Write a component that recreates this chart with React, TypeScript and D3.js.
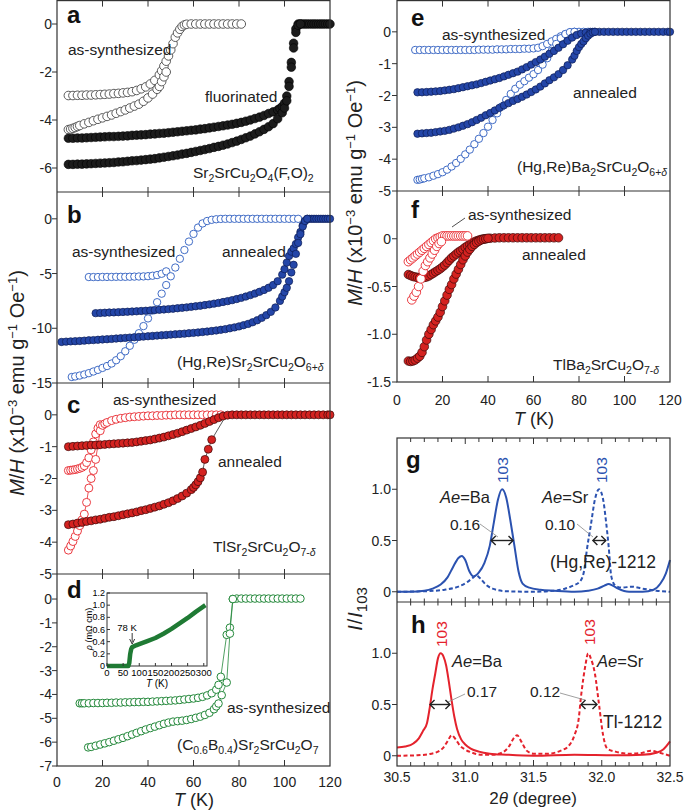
import React from 'react';
import * as d3 from 'd3';

type Pt = [number, number];

// ---------- tick labels ----------
const tempTicks = [0, 20, 40, 60, 80, 100, 120];
const thetaTicks = [30.5, 31.0, 31.5, 32.0, 32.5];
const thetaMinor = [30.6, 30.7, 30.8, 30.9, 31.1, 31.2, 31.3, 31.4, 31.6, 31.7, 31.8, 31.9, 32.1, 32.2, 32.3, 32.4];
const yTicksA = [0, -2, -4, -6];
const yTicksB = [0, -5, -10, -15];
const yTicksC = [0, -1, -2, -3, -4, -5];
const yTicksD = [0, -1, -2, -3, -4, -5, -6, -7];
const yTicksE = [0, -1, -2, -3, -4, -5];
const yTicksF = [0, -0.5, -1.0, -1.5];
const yTicksXrd = [0, 0.5, 1.0];
const rhoTicks = [0, 0.2, 0.4, 0.6, 0.8, 1.0, 1.2];
const rhoTempTicks = [0, 50, 100, 150, 200, 250, 300];

// ---------- panel a: Sr2SrCu2O4(F,O)2 ----------
const aAsUpper: Pt[] = [[5,-2.98],[7,-2.98],[9,-2.97],[11,-2.97],[13,-2.96],[15,-2.96],[17,-2.95],[19,-2.94],[21,-2.93],[23,-2.92],[25,-2.9],[27,-2.89],[29,-2.87],[31,-2.85],[33,-2.82],[35,-2.77],[37,-2.7],[39,-2.62],[41,-2.5],[43,-2.35],[45,-2.12],[46,-1.95],[47,-1.75],[48,-1.55],[49,-1.33],[50,-1.08],[51,-0.82],[52,-0.55],[53,-0.37],[54,-0.22],[55,-0.1],[56,-0.04],[57,-0.01],[59,0],[61,0],[63,0],[65,0],[67,0],[69,0],[71,0],[73,0],[75,0],[77,0],[79,0],[81,0]];
const aAsLower: Pt[] = [[5,-4.4],[6,-4.38],[7,-4.35],[8,-4.31],[9,-4.27],[10,-4.23],[12,-4.16],[14,-4.1],[16,-4.03],[18,-3.97],[20,-3.91],[22,-3.85],[24,-3.79],[26,-3.72],[28,-3.65],[30,-3.58],[32,-3.5],[34,-3.42],[36,-3.34],[38,-3.22],[40,-3.08],[42,-2.92],[44,-2.72],[45,-2.6],[46,-2.4],[47,-2.2],[48,-2.0]];
const aFlUpper: Pt[] = [[5,-4.76],[7,-4.76],[9,-4.75],[11,-4.75],[13,-4.74],[15,-4.73],[17,-4.72],[19,-4.71],[21,-4.7],[23,-4.69],[25,-4.69],[27,-4.68],[29,-4.67],[31,-4.66],[33,-4.64],[35,-4.63],[37,-4.62],[39,-4.61],[41,-4.59],[43,-4.58],[45,-4.56],[47,-4.55],[49,-4.53],[51,-4.51],[53,-4.49],[55,-4.47],[57,-4.45],[59,-4.43],[61,-4.41],[63,-4.38],[65,-4.36],[67,-4.33],[69,-4.3],[71,-4.27],[73,-4.24],[75,-4.21],[77,-4.18],[79,-4.14],[81,-4.1],[83,-4.05],[85,-4.0],[87,-3.94],[89,-3.88],[91,-3.81],[93,-3.73],[95,-3.66],[97,-3.58],[98,-3.52],[99,-3.44],[100,-3.3],[101,-3.0],[102,-2.4],[103,-1.6],[104,-0.8],[105,-0.2],[106,0],[107,0],[108,0],[109,0],[110,0],[111,0],[112,0],[113,0],[114,0],[115,0],[116,0],[117,0],[118,0],[119,0],[120,0]];
const aFlLower: Pt[] = [[5,-5.85],[7,-5.85],[9,-5.84],[11,-5.84],[13,-5.83],[15,-5.82],[17,-5.81],[19,-5.8],[21,-5.79],[23,-5.78],[25,-5.77],[27,-5.75],[29,-5.74],[31,-5.72],[33,-5.7],[35,-5.69],[37,-5.67],[39,-5.65],[41,-5.63],[43,-5.61],[45,-5.58],[47,-5.55],[49,-5.52],[51,-5.49],[53,-5.46],[55,-5.42],[57,-5.39],[59,-5.35],[61,-5.31],[63,-5.27],[65,-5.23],[67,-5.19],[69,-5.14],[71,-5.1],[73,-5.05],[75,-5.0],[77,-4.94],[79,-4.88],[81,-4.81],[83,-4.74],[85,-4.67],[87,-4.58],[89,-4.49],[91,-4.39],[93,-4.28],[95,-4.15],[97,-3.95],[99,-3.7],[100,-3.5],[101,-3.2],[102,-2.6],[103,-1.8],[104,-1.0],[105,-0.35],[106,-0.05],[107,0]];

// ---------- panel b: (Hg,Re)Sr2SrCu2O6+d ----------
const bAsUpper: Pt[] = [[14,-5.32],[16,-5.32],[18,-5.32],[20,-5.31],[22,-5.31],[24,-5.31],[26,-5.3],[28,-5.3],[30,-5.3],[32,-5.29],[34,-5.28],[36,-5.27],[38,-5.26],[40,-5.24],[42,-5.2],[44,-5.14],[46,-5.02],[48,-4.8]];
const bAsLower: Pt[] = [[6.5,-14.45],[8,-14.4],[10,-14.32],[12,-14.22],[14,-14.1],[16,-13.95],[18,-13.8],[20,-13.62],[22,-13.45],[24,-13.22],[26,-12.92],[28,-12.55],[30,-12.1],[32,-11.6],[34,-11.05],[36,-10.45],[38,-9.8],[40,-9.1],[42,-8.38],[44,-7.62],[46,-6.84],[48,-6.05],[50,-5.25],[52,-4.45],[54,-3.65],[56,-2.85],[58,-2.08],[60,-1.38],[62,-0.8],[64,-0.42],[66,-0.2],[68,-0.09],[70,-0.04],[72,-0.01],[74,0],[76,0],[78,0],[80,0],[82,0],[84,0],[86,0],[88,0],[90,0],[92,0],[94,0],[96,0],[98,0],[100,0],[102,0],[104,0],[106,0]];
const bAnUpper: Pt[] = [[17,-8.62],[19,-8.6],[21,-8.58],[23,-8.56],[25,-8.55],[27,-8.53],[29,-8.51],[31,-8.49],[33,-8.47],[35,-8.45],[37,-8.42],[39,-8.4],[41,-8.37],[43,-8.34],[45,-8.31],[47,-8.28],[49,-8.25],[51,-8.21],[53,-8.17],[55,-8.13],[57,-8.09],[59,-8.04],[61,-7.99],[63,-7.94],[65,-7.88],[67,-7.82],[69,-7.75],[71,-7.68],[73,-7.6],[75,-7.52],[77,-7.43],[79,-7.33],[81,-7.22],[83,-7.1],[85,-6.97],[87,-6.83],[89,-6.67],[91,-6.5],[93,-6.3],[95,-6.05],[97,-5.7],[99,-5.1],[100,-4.6],[101,-4.0],[102,-3.4],[103,-3.0],[104,-2.7],[105,-2.3],[106,-1.7],[107,-1.2],[108,-0.6],[109,-0.2],[110,0],[111,0],[112,0],[113,0],[114,0],[115,0],[116,0],[117,0],[118,0],[119,0],[120,0]];
const bAnLower: Pt[] = [[2,-11.25],[4,-11.22],[6,-11.2],[8,-11.18],[10,-11.16],[12,-11.13],[14,-11.1],[16,-11.08],[18,-11.05],[20,-11.02],[22,-11.0],[24,-10.97],[26,-10.94],[28,-10.91],[30,-10.88],[32,-10.85],[34,-10.82],[36,-10.79],[38,-10.76],[40,-10.73],[42,-10.7],[44,-10.67],[46,-10.64],[48,-10.61],[50,-10.58],[52,-10.55],[54,-10.52],[56,-10.49],[58,-10.45],[60,-10.42],[62,-10.38],[64,-10.34],[66,-10.3],[68,-10.25],[70,-10.2],[72,-10.14],[74,-10.08],[76,-10.0],[78,-9.92],[80,-9.83],[82,-9.72],[84,-9.6],[86,-9.45],[88,-9.27],[90,-9.05],[92,-8.8],[94,-8.5],[96,-8.1],[98,-7.5],[99,-7.1],[100,-6.7],[101,-6.3],[102,-5.7],[103,-4.9],[104,-4.2],[105,-3.2],[106,-2.2],[107,-1.4],[108,-0.7],[109,-0.2],[110,0]];

// ---------- panel c: TlSr2SrCu2O7-d ----------
const cAsUpper: Pt[] = [[5,-1.75],[6,-1.74],[7,-1.73],[8,-1.72],[9,-1.7],[10,-1.68],[11,-1.65],[12,-1.6],[13,-1.5],[14,-1.35],[15,-1.1],[16,-0.85],[17,-0.6],[18,-0.42],[19,-0.31]];
const cAsLower: Pt[] = [[5,-4.25],[6,-4.12],[7,-3.98],[8,-3.82],[9,-3.65],[10,-3.48],[11,-3.3],[12,-3.12],[13,-2.75],[14,-2.3],[15,-2.0],[16,-1.75],[17,-1.4],[18,-0.95],[19,-0.5],[20,-0.33],[21,-0.28],[22,-0.24],[24,-0.18],[26,-0.14],[28,-0.11],[30,-0.09],[32,-0.07],[34,-0.06],[36,-0.05],[38,-0.04],[40,-0.03],[42,-0.03],[44,-0.02],[46,-0.02],[48,-0.01],[50,-0.01],[52,0],[54,0],[56,0],[58,0],[60,0],[62,0],[64,0],[66,0],[68,0],[70,0],[72,0]];
const cAnUpper: Pt[] = [[5,-1.0],[7,-0.99],[9,-0.98],[11,-0.97],[13,-0.96],[15,-0.95],[17,-0.95],[19,-0.94],[21,-0.93],[23,-0.92],[25,-0.91],[27,-0.9],[29,-0.89],[31,-0.88],[33,-0.87],[35,-0.85],[37,-0.83],[39,-0.81],[41,-0.79],[43,-0.76],[45,-0.73],[47,-0.7],[49,-0.66],[51,-0.62],[53,-0.58],[55,-0.53],[57,-0.48],[59,-0.43],[61,-0.38],[63,-0.33],[65,-0.27],[67,-0.21],[69,-0.15],[71,-0.09],[73,-0.04],[75,-0.01],[77,0],[79,0],[81,0],[83,0],[85,0],[87,0],[89,0],[91,0],[93,0],[95,0],[97,0],[99,0],[101,0],[103,0],[105,0],[107,0],[109,0],[111,0],[113,0],[115,0],[117,0],[119,0],[120,0]];
const cAnLower: Pt[] = [[5,-3.45],[7,-3.43],[9,-3.4],[11,-3.38],[13,-3.35],[15,-3.33],[17,-3.3],[19,-3.28],[21,-3.25],[23,-3.22],[25,-3.2],[27,-3.17],[29,-3.14],[31,-3.11],[33,-3.08],[35,-3.05],[37,-3.01],[39,-2.98],[41,-2.94],[43,-2.9],[45,-2.86],[47,-2.81],[49,-2.76],[51,-2.7],[53,-2.63],[55,-2.55],[57,-2.46],[59,-2.35],[60,-2.28],[61,-2.2],[62,-2.1],[63,-1.98],[64,-1.8],[65,-1.4],[66.5,-1.08],[68,-0.78]];
const cAnLink: Pt[] = [[68,-0.78],[74,-0.06]];

// ---------- panel d: (C0.6B0.4)Sr2SrCu2O7 ----------
const dAsUpper: Pt[] = [[10,-4.37],[11,-4.37],[12,-4.37],[14,-4.37],[16,-4.36],[18,-4.36],[20,-4.36],[22,-4.35],[24,-4.35],[26,-4.34],[28,-4.34],[30,-4.33],[32,-4.33],[34,-4.32],[36,-4.32],[38,-4.31],[40,-4.31],[42,-4.3],[44,-4.29],[46,-4.28],[48,-4.27],[50,-4.26],[52,-4.25],[54,-4.23],[56,-4.21],[58,-4.19],[60,-4.17],[62,-4.14],[64,-4.1],[66,-4.04],[68,-3.95],[70,-3.8],[71,-3.6],[72,-3.26],[74.6,-1.5],[76,-1.2],[77.3,0],[79,0.02],[81,0.02],[83,0.02],[85,0.02],[87,0.02],[89,0.02],[91,0.02],[93,0.02],[95,0.02],[97,0.02],[99,0.02],[101,0.02],[103,0.02],[105,0.02],[107,0.02]];
const dAsLower: Pt[] = [[13.7,-6.22],[15,-6.2],[17,-6.15],[19,-6.1],[21,-6.05],[23,-6.0],[25,-5.94],[27,-5.88],[29,-5.82],[31,-5.75],[33,-5.68],[35,-5.61],[37,-5.54],[39,-5.47],[41,-5.41],[43,-5.35],[45,-5.29],[47,-5.23],[49,-5.18],[51,-5.14],[53,-5.12],[55,-5.1],[57,-5.07],[59,-5.03],[61,-4.98],[63,-4.93],[65,-4.86],[67,-4.77],[69,-4.62],[70,-4.5],[71,-4.38],[72.4,-4.03],[74.6,-3.5],[76,-1.45],[77.3,0]];
const dRho: Pt[] = [[0,0],[20,0],[40,0],[60,0],[66,0],[69,0.05],[72,0.2],[75,0.28],[78,0.31],[90,0.34],[100,0.36],[125,0.41],[150,0.46],[175,0.53],[200,0.61],[225,0.7],[250,0.79],[275,0.89],[305,1.0]];

// ---------- panel e: (Hg,Re)Ba2SrCu2O6+d ----------
const eAsUpper: Pt[] = [[8,-0.57],[10,-0.57],[12,-0.57],[14,-0.57],[16,-0.57],[18,-0.57],[20,-0.57],[22,-0.57],[24,-0.57],[26,-0.57],[28,-0.57],[30,-0.57],[32,-0.57],[34,-0.57],[36,-0.56],[38,-0.56],[40,-0.56],[42,-0.56],[44,-0.55],[46,-0.55],[48,-0.55],[50,-0.54],[52,-0.54],[54,-0.54],[56,-0.53],[58,-0.53],[60,-0.52],[62,-0.5],[64,-0.45],[66,-0.38],[68,-0.3],[70,-0.22],[72,-0.14],[74,-0.07],[76,-0.02],[78,0],[80,0],[82,0],[84,0],[86,0]];
const eAsLower: Pt[] = [[9,-4.65],[10,-4.64],[11,-4.62],[12,-4.6],[14,-4.57],[16,-4.52],[18,-4.47],[20,-4.41],[22,-4.33],[24,-4.23],[26,-4.12],[28,-3.99],[30,-3.85],[32,-3.7],[34,-3.53],[36,-3.36],[38,-3.18],[40,-2.98],[42,-2.77],[44,-2.56],[46,-2.35],[48,-2.14],[50,-1.95],[52,-1.79],[54,-1.66],[56,-1.55],[58,-1.44],[60,-1.33],[62,-1.2],[64,-1.03],[66,-0.83],[68,-0.6],[70,-0.38],[72,-0.2],[74,-0.07],[76,-0.01],[78,0]];
const eAnUpper: Pt[] = [[9,-1.9],[11,-1.9],[13,-1.89],[15,-1.88],[17,-1.87],[19,-1.86],[21,-1.84],[23,-1.82],[25,-1.8],[27,-1.77],[29,-1.74],[31,-1.71],[33,-1.68],[35,-1.65],[37,-1.61],[39,-1.57],[41,-1.53],[43,-1.49],[45,-1.45],[47,-1.4],[49,-1.35],[51,-1.3],[53,-1.25],[55,-1.18],[57,-1.11],[59,-1.03],[61,-0.95],[63,-0.87],[65,-0.78],[67,-0.69],[69,-0.6],[71,-0.5],[73,-0.39],[75,-0.28],[77,-0.18],[79,-0.1],[81,-0.05],[83,-0.02],[85,0],[87,0],[89,0],[91,0],[93,0],[95,0],[97,0],[99,0],[101,0],[103,0],[105,0],[107,0],[109,0],[111,0],[113,0],[115,0],[117,0],[119,0],[120,0]];
const eAnLower: Pt[] = [[9,-3.2],[11,-3.19],[13,-3.18],[15,-3.17],[17,-3.15],[19,-3.13],[21,-3.11],[23,-3.08],[25,-3.04],[27,-3.0],[29,-2.95],[31,-2.9],[33,-2.84],[35,-2.77],[37,-2.7],[39,-2.62],[41,-2.55],[43,-2.47],[45,-2.39],[47,-2.31],[49,-2.24],[51,-2.17],[53,-2.11],[55,-2.04],[57,-1.97],[59,-1.89],[61,-1.81],[63,-1.72],[65,-1.62],[67,-1.52],[69,-1.43],[71,-1.33],[73,-1.2],[75,-1.05],[77,-0.87],[78,-0.75],[79,-0.6],[80,-0.48],[81,-0.38],[82,-0.3],[83,-0.2],[84,-0.12],[85,-0.06],[86,-0.02],[87,0]];

// ---------- panel f: TlBa2SrCu2O7-d ----------
const fAsUpper: Pt[] = [[5,-0.24],[6,-0.22],[7,-0.2],[8,-0.18],[9,-0.16],[10,-0.14],[11,-0.12],[12,-0.1],[13,-0.08],[14,-0.06],[15,-0.04],[16,-0.02],[17,0],[18,0.01],[19,0.02],[20,0.03],[21,0.03],[22,0.03],[23,0.03],[24,0.03],[25,0.03],[26,0.03],[27,0.03],[28,0.03],[29,0.03],[30,0.03],[31,0.03]];
const fAsLower: Pt[] = [[6.5,-0.64],[7.5,-0.6],[8.5,-0.56],[9.5,-0.5],[10.5,-0.42],[11.5,-0.34],[12.5,-0.28],[13.5,-0.24],[14.5,-0.2],[15.5,-0.16],[16.5,-0.12],[17.5,-0.08],[18.5,-0.05],[19.5,-0.03]];
const fAnUpper: Pt[] = [[5,-0.375],[6,-0.385],[7,-0.395],[8,-0.4],[9,-0.405],[10,-0.41],[11,-0.41],[12,-0.405],[13,-0.4],[14,-0.39],[15,-0.375],[16,-0.36],[17,-0.345],[18,-0.33],[19,-0.315],[20,-0.295],[21,-0.275],[22,-0.25],[23,-0.225],[24,-0.2],[25,-0.18],[26,-0.16],[27,-0.14],[28,-0.125],[29,-0.11],[30,-0.09],[31,-0.075],[32,-0.06],[33,-0.045],[34,-0.033],[35,-0.022],[36,-0.014],[37,-0.007],[38,-0.002],[39,0],[41,0.005],[43,0.008],[45,0.01],[47,0.01],[49,0.01],[51,0.01],[53,0.01],[55,0.01],[57,0.01],[59,0.01],[61,0.01],[63,0.01],[65,0.01],[67,0.01],[69,0.01],[71,0.01]];
const fAnLower: Pt[] = [[5,-1.28],[6,-1.285],[7,-1.28],[8,-1.27],[9,-1.25],[10,-1.23],[11,-1.19],[12,-1.13],[13,-1.06],[14,-1.0],[15,-0.95],[16,-0.9],[17,-0.86],[18,-0.82],[19,-0.77],[20,-0.71],[21,-0.65],[22,-0.59],[23,-0.53],[24,-0.48],[25,-0.42],[26,-0.37],[27,-0.32],[28,-0.27],[29,-0.22],[30,-0.18],[31,-0.14],[32,-0.11],[33,-0.08],[34,-0.06],[35,-0.04],[36,-0.025],[37,-0.013],[38,-0.005],[39,0],[40,0.005]];

// ---------- panels g, h: XRD ----------
const gBa: Pt[] = [[30.5,0],[30.6,0],[30.7,0.01],[30.76,0.03],[30.82,0.07],[30.87,0.14],[30.91,0.24],[30.95,0.33],[30.975,0.35],[31.0,0.31],[31.03,0.2],[31.06,0.15],[31.1,0.19],[31.14,0.28],[31.18,0.45],[31.21,0.68],[31.24,0.9],[31.27,1.0],[31.3,0.92],[31.33,0.7],[31.36,0.45],[31.39,0.2],[31.42,0.08],[31.47,0.04],[31.55,0.02],[31.65,0.01],[31.8,0.0],[31.9,0.01],[31.97,0.03],[32.02,0.06],[32.05,0.075],[32.08,0.06],[32.12,0.03],[32.2,0.0],[32.3,0.0],[32.38,0.02],[32.43,0.08],[32.47,0.18],[32.5,0.31]];
const gSr: Pt[] = [[30.5,0],[30.7,0.005],[30.85,0.02],[30.95,0.05],[31.01,0.09],[31.05,0.13],[31.08,0.16],[31.11,0.13],[31.15,0.07],[31.2,0.03],[31.3,0.005],[31.5,0.0],[31.65,0.01],[31.73,0.03],[31.79,0.06],[31.84,0.1],[31.87,0.2],[31.89,0.4],[31.92,0.65],[31.95,0.9],[31.98,1.0],[32.01,0.9],[32.03,0.7],[32.05,0.45],[32.07,0.15],[32.1,0.06],[32.15,0.04],[32.22,0.05],[32.3,0.03],[32.4,0.01],[32.5,0]];
const hBa: Pt[] = [[30.5,0.08],[30.56,0.09],[30.62,0.12],[30.66,0.17],[30.69,0.24],[30.72,0.32],[30.74,0.47],[30.76,0.65],[30.78,0.8],[30.8,0.95],[30.82,1.0],[30.84,0.97],[30.86,0.88],[30.88,0.72],[30.9,0.54],[30.92,0.38],[30.94,0.26],[30.97,0.16],[31.0,0.11],[31.04,0.07],[31.1,0.04],[31.18,0.02],[31.3,0.01],[31.5,0.0],[31.8,0.01],[32.1,0.005],[32.3,0.01],[32.4,0.03],[32.45,0.06],[32.5,0.14]];
const hSr: Pt[] = [[30.5,0.0],[30.65,0.005],[30.75,0.02],[30.8,0.04],[30.84,0.08],[30.87,0.14],[30.9,0.2],[30.93,0.16],[30.96,0.1],[31.0,0.06],[31.05,0.03],[31.12,0.01],[31.2,0.01],[31.27,0.03],[31.32,0.09],[31.36,0.18],[31.38,0.2],[31.41,0.14],[31.45,0.05],[31.5,0.02],[31.6,0.02],[31.7,0.05],[31.76,0.1],[31.8,0.2],[31.83,0.35],[31.85,0.6],[31.88,0.88],[31.9,1.0],[31.92,0.95],[31.95,0.8],[31.98,0.5],[32.01,0.2],[32.04,0.07],[32.1,0.04],[32.2,0.02],[32.3,0.03],[32.36,0.05],[32.42,0.03],[32.5,0.0]];

const FONT = "'Liberation Sans', Arial, Helvetica, sans-serif";
const FRAME = '#333';

const BLUE = '#2c5cc0';
const BLUE_FILL = '#2446a8';
const RED = '#e8262d';
const RED_FILL = '#d42220';
const GREEN = '#23883a';
const XRD_BLUE = '#2b52b0';
const XRD_RED = '#e4222c';

// scales
const xL = d3.scaleLinear().domain([0, 120]).range([57, 330]);
const xR = d3.scaleLinear().domain([0, 120]).range([397, 670]);
const xT = d3.scaleLinear().domain([30.5, 32.5]).range([397, 670]);
const yA = d3.scaleLinear().domain([-7, 1]).range([192, 0]);
const yB = d3.scaleLinear().domain([-15, 2.45]).range([383, 192]);
const yC = d3.scaleLinear().domain([-5, 1]).range([574, 383]);
const yD = d3.scaleLinear().domain([-7, 1.05]).range([766, 574]);
const yE = d3.scaleLinear().domain([-5, 1]).range([191, 0]);
const yF = d3.scaleLinear().domain([-1.5, 0.5]).range([382, 191]);
const yG = d3.scaleLinear().domain([-0.1, 1.5]).range([602, 438]);
const yH = d3.scaleLinear().domain([-0.1, 1.5]).range([766, 602]);
const xIn = d3.scaleLinear().domain([0, 310]).range([107, 207]);
const yIn = d3.scaleLinear().domain([0, 1.2]).range([666, 593]);

type Scale = d3.ScaleLinear<number, number>;

function Markers({ data, x, y, r, fill, stroke, sw = 0.9, line }: { data: Pt[]; x: Scale; y: Scale; r: number; fill: string; stroke: string; sw?: number; line?: string }) {
  const path = d3.line<Pt>().x(d => x(d[0])).y(d => y(d[1]));
  return (
    <g>
      {line && <path d={path(data) || ''} fill="none" stroke={line} strokeWidth={0.8} />}
      {data.map((d, i) => (
        <circle key={i} cx={x(d[0])} cy={y(d[1])} r={r} fill={fill} stroke={stroke} strokeWidth={sw} />
      ))}
    </g>
  );
}

function Curve({ data, y, color, dashed }: { data: Pt[]; y: Scale; color: string; dashed?: boolean }) {
  const path = d3.line<Pt>().x(d => xT(d[0])).y(d => y(d[1])).curve(d3.curveMonotoneX);
  return <path d={path(data) || ''} fill="none" stroke={color} strokeWidth={2} strokeDasharray={dashed ? '4,2.5' : undefined} />;
}

function YAxis({ y, ticks, x0, fmt, labelX }: { y: Scale; ticks: number[]; x0: number; fmt?: (v: number) => string; labelX: number }) {
  return (
    <g>
      {ticks.map(t => (
        <g key={t}>
          <line x1={x0 - 5} x2={x0} y1={y(t)} y2={y(t)} stroke={FRAME} strokeWidth={1} />
          <text x={labelX} y={y(t)} dy="0.36em" textAnchor="end" fontSize={14} fill="#222">{fmt ? fmt(t) : String(t)}</text>
        </g>
      ))}
    </g>
  );
}

function XTickMarks({ x, ticks, y, mode, len = 5 }: { x: Scale; ticks: number[]; y: number; mode: 'down' | 'up' | 'both'; len?: number }) {
  const y1 = mode === 'down' ? y : y - len;
  const y2 = mode === 'up' ? y : y + len;
  return (
    <g>
      {ticks.map(t => <line key={t} x1={x(t)} x2={x(t)} y1={y1} y2={y2} stroke={FRAME} strokeWidth={1} />)}
    </g>
  );
}

function DoubleArrow({ x1, x2, y }: { x1: number; x2: number; y: number }) {
  const h = 4.5;
  return (
    <g stroke="#222" strokeWidth={1.4} fill="none">
      <line x1={x1} x2={x2} y1={y} y2={y} />
      <path d={`M${x1 + h},${y - h} L${x1},${y} L${x1 + h},${y + h}`} />
      <path d={`M${x2 - h},${y - h} L${x2},${y} L${x2 - h},${y + h}`} />
    </g>
  );
}

const innerT = [20, 40, 60, 80, 100];
const fmt1 = (v: number) => (v === 0 ? '0' : v.toFixed(1));

export default function App() {
  const sub = (s: string, fs = 10.5) => <tspan dy={4} fontSize={fs}>{s}</tspan>;
  const up = (s: string) => <tspan dy={-4}>{s}</tspan>;
  const rhoLine = d3.line<Pt>().x(d => xIn(d[0])).y(d => yIn(d[1]));

  return (
    <svg width={685} height={810} style={{ position: 'absolute', left: 0, top: 0 }} fontFamily={FONT}>
      <rect width={685} height={810} fill="#fff" />

      {/* ===== panel a ===== */}
      <Markers data={aAsUpper} x={xL} y={yA} r={4.3} fill="#fff" stroke="#4a4a4a" />
      <Markers data={aAsLower} x={xL} y={yA} r={4.3} fill="#fff" stroke="#4a4a4a" />
      <Markers data={aFlUpper} x={xL} y={yA} r={4.3} fill="#1c1c1c" stroke="#000" sw={0.6} />
      <Markers data={aFlLower} x={xL} y={yA} r={4.3} fill="#1c1c1c" stroke="#000" sw={0.6} />

      {/* ===== panel b ===== */}
      <Markers data={bAsUpper} x={xL} y={yB} r={3.7} fill="#fff" stroke={BLUE} />
      <Markers data={bAsLower} x={xL} y={yB} r={3.7} fill="#fff" stroke={BLUE} />
      <Markers data={bAnUpper} x={xL} y={yB} r={3.7} fill={BLUE_FILL} stroke="#0d1d55" sw={0.7} />
      <Markers data={bAnLower} x={xL} y={yB} r={3.7} fill={BLUE_FILL} stroke="#0d1d55" sw={0.7} />

      {/* ===== panel c ===== */}
      <Markers data={cAsUpper} x={xL} y={yC} r={4} fill="#fff" stroke={RED} line={RED} />
      <Markers data={cAsLower} x={xL} y={yC} r={4} fill="#fff" stroke={RED} line={RED} />
      <path d={d3.line<Pt>().x(d => xL(d[0])).y(d => yC(d[1]))(cAnLink) || ''} stroke="#333" strokeWidth={0.8} fill="none" />
      <Markers data={cAnUpper} x={xL} y={yC} r={4} fill={RED_FILL} stroke="#3a0808" sw={0.7} />
      <Markers data={cAnLower} x={xL} y={yC} r={4} fill={RED_FILL} stroke="#3a0808" sw={0.7} line="#333" />

      {/* ===== panel d ===== */}
      <Markers data={dAsUpper} x={xL} y={yD} r={3.8} fill="#fff" stroke={GREEN} sw={1} line={GREEN} />
      <Markers data={dAsLower} x={xL} y={yD} r={3.8} fill="#fff" stroke={GREEN} sw={1} line={GREEN} />

      {/* inset */}
      <rect x={107} y={593} width={100} height={73} fill="#fff" stroke={FRAME} strokeWidth={1} />
      <path d={rhoLine(dRho) || ''} fill="none" stroke="#1f7a34" strokeWidth={4.5} strokeLinejoin="round" />
      {rhoTicks.map(t => (
        <g key={t}>
          <line x1={107} x2={110} y1={yIn(t)} y2={yIn(t)} stroke={FRAME} />
          <text x={105} y={yIn(t)} dy="0.35em" textAnchor="end" fontSize={9}>{t === 0 ? '0' : t.toFixed(1)}</text>
        </g>
      ))}
      {rhoTempTicks.map(t => (
        <g key={t}>
          <line x1={xIn(t)} x2={xIn(t)} y1={666} y2={663} stroke={FRAME} />
          <text x={xIn(t)} y={676} textAnchor="middle" fontSize={9.5}>{t}</text>
        </g>
      ))}
      <text transform="translate(92,629) rotate(-90)" textAnchor="middle" fontSize={9}>
        <tspan fontStyle="italic">ρ</tspan> (mΩ cm)
      </text>
      <text x={157} y={687} textAnchor="middle" fontSize={10}><tspan fontStyle="italic">T</tspan> (K)</text>
      <text x={127} y={631} textAnchor="middle" fontSize={9.5}>78 K</text>
      <line x1={xIn(78)} x2={xIn(78)} y1={633} y2={642} stroke="#222" strokeWidth={0.9} />
      <path d={`M${xIn(78) - 2.5},${639} L${xIn(78)},${644} L${xIn(78) + 2.5},${639}`} fill="none" stroke="#222" strokeWidth={0.9} />

      {/* ===== panel e ===== */}
      <Markers data={eAsUpper} x={xR} y={yE} r={3.7} fill="#fff" stroke={BLUE} />
      <Markers data={eAsLower} x={xR} y={yE} r={3.7} fill="#fff" stroke={BLUE} />
      <Markers data={eAnUpper} x={xR} y={yE} r={3.7} fill={BLUE_FILL} stroke="#0d1d55" sw={0.7} />
      <Markers data={eAnLower} x={xR} y={yE} r={3.7} fill={BLUE_FILL} stroke="#0d1d55" sw={0.7} />

      {/* ===== panel f ===== */}
      <Markers data={fAnUpper} x={xR} y={yF} r={4.3} fill={RED_FILL} stroke="#3a0808" sw={0.7} />
      <Markers data={fAnLower} x={xR} y={yF} r={4.3} fill={RED_FILL} stroke="#3a0808" sw={0.7} />
      <Markers data={fAsUpper} x={xR} y={yF} r={4.3} fill="#fff" stroke={RED} />
      <Markers data={fAsLower} x={xR} y={yF} r={4.3} fill="#fff" stroke={RED} />

      {/* ===== panels g, h ===== */}
      <Curve data={gSr} y={yG} color={XRD_BLUE} dashed />
      <Curve data={gBa} y={yG} color={XRD_BLUE} />
      <Curve data={hSr} y={yH} color={XRD_RED} dashed />
      <Curve data={hBa} y={yH} color={XRD_RED} />

      {/* ===== frames ===== */}
      <g fill="none" stroke={FRAME} strokeWidth={1.2}>
        <rect x={57} y={0.6} width={273} height={765.4} />
        <line x1={57} x2={330} y1={192} y2={192} />
        <line x1={57} x2={330} y1={383} y2={383} />
        <line x1={57} x2={330} y1={574} y2={574} />
        <rect x={397} y={0.6} width={273} height={381.4} />
        <line x1={397} x2={670} y1={191} y2={191} />
        <rect x={397} y={438} width={273} height={328} />
        <line x1={397} x2={670} y1={602} y2={602} />
      </g>

      {/* x tick marks */}
      <XTickMarks x={xL} ticks={innerT} y={0.6} mode="down" len={6} />
      <XTickMarks x={xL} ticks={innerT} y={192} mode="both" />
      <XTickMarks x={xL} ticks={innerT} y={383} mode="both" />
      <XTickMarks x={xL} ticks={innerT} y={574} mode="both" />
      <XTickMarks x={xL} ticks={innerT} y={766} mode="up" len={6} />
      <XTickMarks x={xR} ticks={innerT} y={0.6} mode="down" len={6} />
      <XTickMarks x={xR} ticks={innerT} y={191} mode="both" />
      <XTickMarks x={xR} ticks={innerT} y={382} mode="up" len={6} />
      <XTickMarks x={xT} ticks={thetaMinor} y={438} mode="down" len={4} />
      <XTickMarks x={xT} ticks={[31.0, 31.5, 32.0]} y={438} mode="down" len={6} />
      <XTickMarks x={xT} ticks={thetaMinor} y={602} mode="both" len={3.5} />
      <XTickMarks x={xT} ticks={[31.0, 31.5, 32.0]} y={602} mode="both" len={5} />
      <XTickMarks x={xT} ticks={thetaMinor} y={766} mode="up" len={4} />
      <XTickMarks x={xT} ticks={[31.0, 31.5, 32.0]} y={766} mode="up" len={6} />

      {/* y axes */}
      <YAxis y={yA} ticks={yTicksA} x0={57} labelX={52} />
      <YAxis y={yB} ticks={yTicksB} x0={57} labelX={52} />
      <YAxis y={yC} ticks={yTicksC} x0={57} labelX={52} />
      <YAxis y={yD} ticks={yTicksD} x0={57} labelX={52} />
      <YAxis y={yE} ticks={yTicksE} x0={397} labelX={391} />
      <YAxis y={yF} ticks={yTicksF} x0={397} labelX={391} fmt={fmt1} />
      <YAxis y={yG} ticks={yTicksXrd} x0={397} labelX={391} fmt={fmt1} />
      <YAxis y={yH} ticks={yTicksXrd} x0={397} labelX={391} fmt={fmt1} />

      {/* x tick labels */}
      {tempTicks.map(t => <text key={'l' + t} x={xL(t)} y={787} textAnchor="middle" fontSize={14} fill="#222">{t}</text>)}
      {tempTicks.map(t => <text key={'r' + t} x={xR(t)} y={405} textAnchor="middle" fontSize={14} fill="#222">{t}</text>)}
      {thetaTicks.map(t => <text key={'t' + t} x={xT(t)} y={782} textAnchor="middle" fontSize={14} fill="#222">{t.toFixed(1)}</text>)}

      {/* axis titles */}
      <text transform="translate(24,383) rotate(-90)" textAnchor="middle" fontSize={20} fill="#222">
        <tspan fontStyle="italic">M</tspan>/<tspan fontStyle="italic">H</tspan> (x10<tspan dy={-7} fontSize={13}>−3</tspan><tspan dy={7}> emu g</tspan><tspan dy={-7} fontSize={13}>−1</tspan><tspan dy={7}> Oe</tspan><tspan dy={-7} fontSize={13}>−1</tspan><tspan dy={7}>)</tspan>
      </text>
      <text transform="translate(362,193) rotate(-90)" textAnchor="middle" fontSize={20} fill="#222">
        <tspan fontStyle="italic">M</tspan>/<tspan fontStyle="italic">H</tspan> (x10<tspan dy={-7} fontSize={13}>−3</tspan><tspan dy={7}> emu g</tspan><tspan dy={-7} fontSize={13}>−1</tspan><tspan dy={7}> Oe</tspan><tspan dy={-7} fontSize={13}>−1</tspan><tspan dy={7}>)</tspan>
      </text>
      <text transform="translate(362,609) rotate(-90)" textAnchor="middle" fontSize={20} fill="#222">
        <tspan fontStyle="italic">I</tspan><tspan dx={1}>/</tspan><tspan fontStyle="italic" dx={1}>I</tspan><tspan dy={5} fontSize={15}>103</tspan>
      </text>
      <text x={194} y={806} textAnchor="middle" fontSize={18} fill="#222"><tspan fontStyle="italic">T</tspan> (K)</text>
      <text x={534} y={425} textAnchor="middle" fontSize={18} fill="#222"><tspan fontStyle="italic">T</tspan> (K)</text>
      <text x={533} y={804} textAnchor="middle" fontSize={17} fill="#222">2<tspan fontStyle="italic">θ</tspan> (degree)</text>

      {/* panel letters */}
      <g fontSize={24} fontWeight="bold" fill="#111">
        <text x={67} y={23}>a</text>
        <text x={67} y={223}>b</text>
        <text x={67} y={413}>c</text>
        <text x={67} y={598}>d</text>
        <text x={411} y={26}>e</text>
        <text x={411} y={218}>f</text>
        <text x={406} y={468}>g</text>
        <text x={411} y={633}>h</text>
      </g>

      {/* annotations a–f */}
      <g fontSize={15.5} fill="#222">
        <text x={68} y={55}>as-synthesized</text>
        <text x={205} y={102}>fluorinated</text>
        <text x={193} y={178}>Sr{sub('2')}{up('SrCu')}{sub('2')}{up('O')}{sub('4')}{up('(F,O)')}{sub('2')}</text>

        <text x={72} y={257}>as-synthesized</text>
        <text x={222} y={257}>annealed</text>
        <text x={177} y={367}>(Hg,Re)Sr{sub('2')}{up('SrCu')}{sub('2')}{up('O')}<tspan dy={4} fontSize={10.5}>6+<tspan fontStyle="italic">δ</tspan></tspan></text>

        <text x={113} y={405}>as-synthesized</text>
        <text x={218} y={467}>annealed</text>
        <text x={213} y={552}>TlSr{sub('2')}{up('SrCu')}{sub('2')}{up('O')}<tspan dy={4} fontSize={10.5}>7-<tspan fontStyle="italic">δ</tspan></tspan></text>

        <text x={227} y={713}>as-synthesized</text>
        <text x={177} y={750}>(C{sub('0.6')}{up('B')}{sub('0.4')}{up(')Sr')}{sub('2')}{up('SrCu')}{sub('2')}{up('O')}{sub('7')}</text>

        <text x={442} y={40}>as-synthesized</text>
        <text x={573} y={98}>annealed</text>
        <text x={517} y={172}>(Hg,Re)Ba{sub('2')}{up('SrCu')}{sub('2')}{up('O')}<tspan dy={4} fontSize={10.5}>6+<tspan fontStyle="italic">δ</tspan></tspan></text>

        <text x={468} y={220}>as-synthesized</text>
        <line x1={452} y1={227} x2={465} y2={218} stroke="#222" strokeWidth={0.8} />
        <text x={522} y={260}>annealed</text>
        <text x={553} y={370}>TlBa{sub('2')}{up('SrCu')}{sub('2')}{up('O')}<tspan dy={4} fontSize={10.5}>7-<tspan fontStyle="italic">δ</tspan></tspan></text>
      </g>

      {/* annotations g, h */}
      <g fill="#222">
        <text transform="translate(508,483) rotate(-90)" fill={XRD_BLUE} fontSize={15.5}>103</text>
        <text transform="translate(607,483) rotate(-90)" fill={XRD_BLUE} fontSize={15.5}>103</text>
        <text x={440} y={503} fontSize={16.5}><tspan fontStyle="italic">Ae</tspan>=Ba</text>
        <text x={542} y={503} fontSize={16.5}><tspan fontStyle="italic">Ae</tspan>=Sr</text>
        <text x={450} y={530} fontSize={15.5}>0.16</text>
        <text x={545} y={530} fontSize={15.5}>0.10</text>
        <text x={550} y={568} fontSize={17.5}>(Hg,Re)-1212</text>

        <text transform="translate(447,647) rotate(-90)" fill={XRD_RED} fontSize={15.5}>103</text>
        <text transform="translate(595,645) rotate(-90)" fill={XRD_RED} fontSize={15.5}>103</text>
        <text x={452} y={667} fontSize={16.5}><tspan fontStyle="italic">Ae</tspan>=Ba</text>
        <text x={597} y={667} fontSize={16.5}><tspan fontStyle="italic">Ae</tspan>=Sr</text>
        <text x={467} y={697} fontSize={15.5}>0.17</text>
        <text x={530} y={697} fontSize={15.5}>0.12</text>
        <text x={603} y={728} fontSize={17.5}>Tl-1212</text>
      </g>
      <g stroke="#888" strokeWidth={0.8}>
        <line x1={480} y1={524} x2={498} y2={537} />
        <line x1={577} y1={524} x2={593} y2={537} />
        <line x1={465} y1={694} x2={448} y2={702} />
        <line x1={560} y1={693} x2={585} y2={700} />
      </g>
      <DoubleArrow x1={xT(31.19)} x2={xT(31.35)} y={yG(0.5)} />
      <DoubleArrow x1={xT(31.935)} x2={xT(32.03)} y={yG(0.5)} />
      <DoubleArrow x1={xT(30.742)} x2={xT(30.888)} y={yH(0.5)} />
      <DoubleArrow x1={xT(31.848)} x2={xT(31.965)} y={yH(0.5)} />
    </svg>
  );
}
